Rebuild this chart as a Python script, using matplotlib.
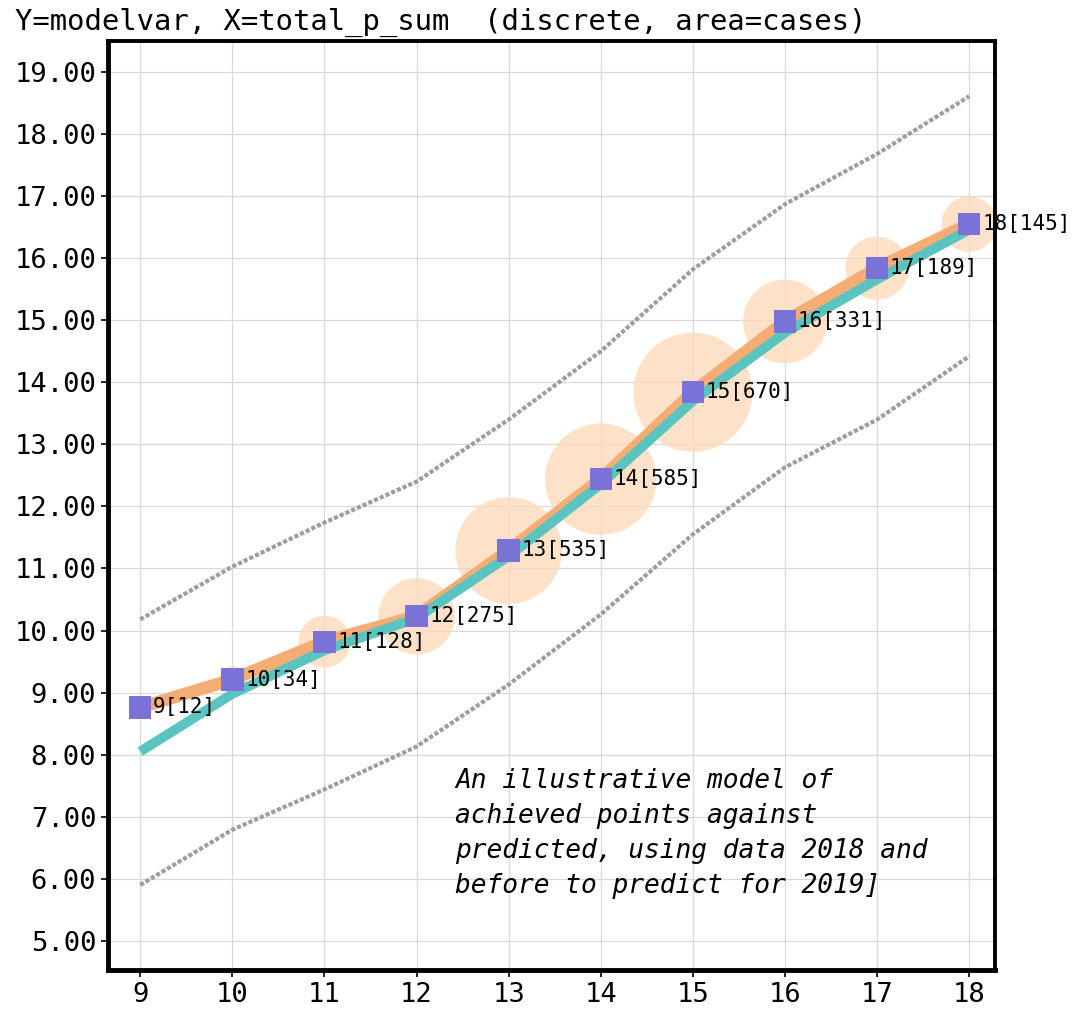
import matplotlib
matplotlib.use("Agg")
import matplotlib.pyplot as plt

# values
xs = [9, 10, 11, 12, 13, 14, 15, 16, 17, 18]
cases = [12, 34, 128, 275, 535, 585, 670, 331, 189, 145]
observed = [8.76, 9.21, 9.82, 10.23, 11.29, 12.44, 13.84, 14.98, 15.84, 16.55]
model = [8.05, 8.98, 9.68, 10.20, 11.20, 12.36, 13.70, 14.80, 15.66, 16.46]
upper = [10.18, 11.03, 11.74, 12.40, 13.40, 14.50, 15.82, 16.87, 17.68, 18.61]
lower = [5.90, 6.79, 7.44, 8.13, 9.13, 10.26, 11.55, 12.63, 13.40, 14.42]
yticks = [5, 6, 7, 8, 9, 10, 11, 12, 13, 14, 15, 16, 17, 18, 19]

note = ("An illustrative model of\nachieved points against\n"
        "predicted, using data 2018 and\nbefore to predict for 2019]")

plt.rcParams['font.family'] = ['DejaVu Sans Mono']

fig = plt.figure(figsize=(10.76, 10.11), dpi=100)
ax = fig.add_axes([108 / 1076, 41 / 1011, 887 / 1076, 929 / 1011])

ax.grid(True, color='#d9d9d9', linewidth=0.9)
ax.set_axisbelow(True)

# bubbles, area proportional to cases
ax.scatter(xs, observed, s=[c * 11.0 for c in cases], color='#fdd9b8',
           alpha=0.75, edgecolors='none', zorder=2)
ax.plot(xs, upper, color='#9e9e9e', linewidth=3, linestyle=(0, (1, 0.5)), zorder=2)
ax.plot(xs, lower, color='#9e9e9e', linewidth=3, linestyle=(0, (1, 0.5)), zorder=2)
ax.plot(xs, observed, color='#f6ad74', linewidth=9, solid_capstyle='butt', zorder=3)
ax.plot(xs, model, color='#5bc4c0', linewidth=7, solid_capstyle='butt', zorder=4)
ax.scatter(xs, observed, marker='s', s=260, color='#7b72d8', edgecolors='none', zorder=5)

for x, y, c in zip(xs, observed, cases):
    ax.text(x + 0.14, y, f"{x}[{c}]", fontsize=15, va='center', ha='left', zorder=6)

ax.text(12.42, 7.78, note, fontsize=18.9, style='italic', va='top', ha='left',
        linespacing=1.45)

ax.set_xlim(8.65, 18.28)
ax.set_ylim(4.53, 19.5)
ax.set_xticks(xs)
ax.set_yticks(yticks)
ax.set_yticklabels([f"{v:.2f}" for v in yticks])
ax.tick_params(labelsize=19.5, length=5, width=1.2)

for side in ['left', 'bottom']:
    ax.spines[side].set_linewidth(3.5)
for side in ['top', 'right']:
    ax.spines[side].set_linewidth(2.8)
for side in ax.spines:
    ax.spines[side].set_zorder(10)

fig.text(15 / 1076, 1 - 22 / 1011, "Y=modelvar, X=total_p_sum  (discrete, area=cases)",
         fontsize=20.8, va='center', ha='left')

fig.savefig("out.png", dpi=100)
